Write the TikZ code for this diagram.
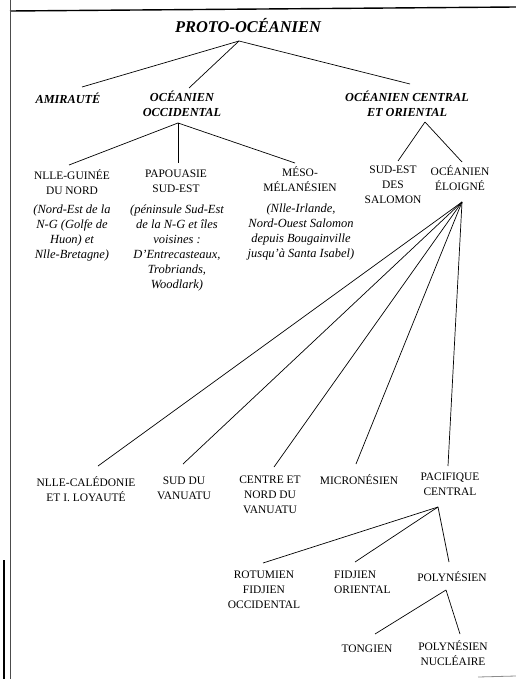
\documentclass[tikz,border=0pt]{standalone}
\usepackage{fontspec}
\setmainfont{Liberation Serif}
\begin{document}
\begin{tikzpicture}[x=1bp,y=1bp,
  base/.style={align=center, inner sep=0pt, anchor=north, yshift=1.5bp,
    execute at begin node={\rule{0pt}{11.5bp}}},
  reg/.style={base, font=\fontsize{11.5}{15}\selectfont},
  desc/.style={base, font=\fontsize{12.5}{15}\selectfont\itshape},
  bolditem/.style={base, font=\fontsize{12.3}{15}\selectfont\bfseries\itshape},
  titlestyle/.style={font=\fontsize{16.5}{20}\selectfont\bfseries\itshape, inner sep=0pt, text height=12bp, anchor=north},
  link/.style={line width=0.7bp},
  frame/.style={line width=1.4bp}]
\useasboundingbox (0,0) rectangle (516,-679);
% page edges of the scan
\draw[frame] (10,-11) -- (516,-7);
\draw[line width=0.6bp, black!70] (10,0) -- (10,-679);
\draw[line width=1.8bp] (4,-560) -- (4,-679);
\draw[line width=0.8bp, black!45] (478,-677) -- (516,-676);

% nodes
\node[titlestyle] (title) at (248,-20.5) {PROTO-OCÉANIEN};
\node[bolditem] (amir) at (68,-93) {AMIRAUTÉ};
\node[bolditem] (occ) at (182,-92) {OCÉANIEN\\OCCIDENTAL};
\node[bolditem] (cent) at (407,-92) {OCÉANIEN CENTRAL\\ET ORIENTAL};

\node[reg] (nlg) at (72,-171) {NLLE-GUINÉE\\DU NORD};
\node[desc] (nlgd) at (72,-206.5) {(Nord-Est de la\\N-G (Golfe de\\Huon) et\\Nlle-Bretagne)};
\node[reg] (pap) at (176,-171) {PAPOUASIE\\SUD-EST};
\node[desc] (papd) at (177,-206.5) {(péninsule Sud-Est\\de la N-G et îles\\voisines :\\D'Entrecasteaux,\\Trobriands,\\Woodlark)};
\node[reg] (meso) at (300,-168) {MÉSO-\\MÉLANÉSIEN};
\node[desc] (mesod) at (301,-205.5) {(Nlle-Irlande,\\Nord-Ouest Salomon\\depuis Bougainville\\jusqu'à Santa Isabel)};
\node[reg] (sse) at (393,-167) {SUD-EST\\DES\\SALOMON};
\node[reg] (eloi) at (460,-167) {OCÉANIEN\\ÉLOIGNÉ};

\node[reg] (ncal) at (86,-478) {NLLE-CALÉDONIE\\ET I. LOYAUTÉ};
\node[reg] (svan) at (184,-478) {SUD DU\\VANUATU};
\node[reg] (cnv) at (270,-477) {CENTRE ET\\NORD DU\\VANUATU};
\node[reg] (micro) at (359,-474) {MICRONÉSIEN};
\node[reg] (pac) at (450,-474) {PACIFIQUE\\CENTRAL};

\node[reg] (rot) at (264,-572) {ROTUMIEN\\FIDJIEN\\OCCIDENTAL};
\node[reg, align=left, anchor=north west] (fid) at (334,-572) {FIDJIEN\\ORIENTAL};
\node[reg] (pol) at (452,-571) {POLYNÉSIEN};
\node[reg] (ton) at (367,-642) {TONGIEN};
\node[reg] (pnuc) at (453,-642) {POLYNÉSIEN\\NUCLÉAIRE};

% branching points
\coordinate (tA) at ([shift={(-9,-20.5)}]title.north);
\coordinate (oA) at ([shift={(-4,-32.5)}]occ.north);
\coordinate (cA) at ([shift={(18,-31.5)}]cent.north);
\coordinate (eA) at ([shift={(2,-36.5)}]eloi.north);
\coordinate (pA) at ([shift={(-12,-34.5)}]pac.north);
\coordinate (yA) at ([shift={(-6,-20.5)}]pol.north);

% connectors
\draw[link] (tA) -- ([shift={(14,4.5)}]amir.north);
\draw[link] (tA) -- ([shift={(7,2.5)}]occ.north);
\draw[link] (tA) -- ([shift={(3,6.5)}]cent.north);

\draw[link] (oA) -- ([shift={(-3,4.5)}]nlg.north);
\draw[link] (oA) -- ([shift={(2,6.5)}]pap.north);
\draw[link] (oA) -- ([shift={(-5,3.5)}]meso.north);

\draw[link] (cA) -- ([shift={(5,4.5)}]sse.north);
\draw[link] (cA) -- ([shift={(2,3.5)}]eloi.north);

\draw[link] (eA) -- ([shift={(12,10.5)}]ncal.north);
\draw[link] (eA) -- ([shift={(-1,12.5)}]svan.north);
\draw[link] (eA) -- ([shift={(4,8.5)}]cnv.north);
\draw[link] (eA) -- ([shift={(-3,8.5)}]micro.north);
\draw[link] (eA) -- ([shift={(-2,6.5)}]pac.north);

\draw[link] (pA) -- ([shift={(-1,7.5)}]rot.north);
\draw[link] (pA) -- ([shift={(21,8.5)}]fid.north west);
\draw[link] (pA) -- ([shift={(-3,7.5)}]pol.north);

\draw[link] (yA) -- ([shift={(8,6.5)}]ton.north);
\draw[link] (yA) -- ([shift={(7,6.5)}]pnuc.north);
\end{tikzpicture}
\end{document}
